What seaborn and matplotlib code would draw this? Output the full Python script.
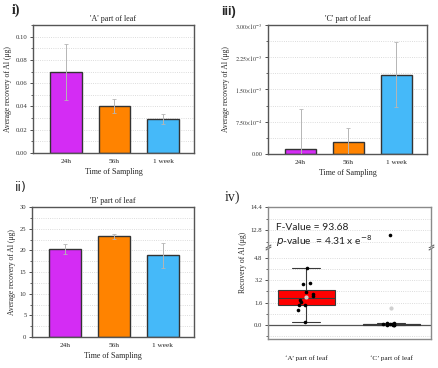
import numpy as np
import pandas as pd
import matplotlib.pyplot as plt
import seaborn as sns
from matplotlib.ticker import MultipleLocator, FixedLocator, FixedFormatter

# bar panels: mean recovery and error per sampling time
times = ['24h', '56h', '1 week']
bar_colors = ['#d42cf4', '#ff8300', '#45b9f9']

a_mean = [0.0695, 0.0405, 0.0293]
a_err = [0.024, 0.0062, 0.0045]

b_mean = [20.3, 23.2, 18.9]
b_err = [1.1, 0.5, 2.9]

c_mean = [0.116e-3, 0.28e-3, 1.845e-3]
c_err = [0.93e-3, 0.32e-3, 0.75e-3]

c_ticks = [0, 0.75e-3, 1.5e-3, 2.25e-3, 3e-3]
c_ticklabels = ['0.00', r'$7.50{\times}10^{-4}$', r'$1.50{\times}10^{-3}$',
                r'$2.25{\times}10^{-3}$', r'$3.00{\times}10^{-3}$']

# box panel: individual values
leaf_a_vals = [4.08, 2.98, 2.94, 2.39, 2.20, 2.05, 1.81, 1.67, 1.43, 1.43, 1.10, 0.21]
leaf_c_vals = [0.0, 0.02, 0.03, 0.04, 0.05, 0.06, 0.08, 0.10, 0.12, 0.15, 12.5]
parts = ['\u2018A\u2019 part of leaf', '\u2018C\u2019 part of leaf']

sns.set_style("white")
plt.rcParams['font.family'] = ['Liberation Serif', 'DejaVu Serif']
plt.rcParams['mathtext.fontset'] = 'stix'

fig = plt.figure(figsize=(4.38, 3.68), dpi=100)
W, H = 438, 368


def box(l, t, r, b):
    return [l / W, 1 - b / H, (r - l) / W, (b - t) / H]


def style_ax(ax, spine_col='#555555'):
    for s in ax.spines.values():
        s.set_color(spine_col)
        s.set_linewidth(1.0)
    ax.tick_params(axis='y', which='major', direction='out', length=2.5, width=0.6,
                   labelsize=4.8, pad=1.5, left=True, colors='#333333')
    ax.tick_params(axis='y', which='minor', direction='out', length=1.5, width=0.5, left=True)
    ax.tick_params(axis='x', length=0, labelsize=5.2, pad=4, colors='#222222')
    ax.grid(axis='y', which='both', linestyle=':', color='#d0d0d0', linewidth=0.6)
    ax.set_axisbelow(True)


def bar_panel(rect, means, errs, title, ylim, major):
    ax = fig.add_axes(rect)
    df = pd.DataFrame({'time': times, 'val': means})
    sns.barplot(data=df, x='time', y='val', hue='time', palette=bar_colors, saturation=1,
                width=0.65, edgecolor='#333333', linewidth=1.0, legend=False, ax=ax)
    ax.errorbar(x=np.arange(len(times)), y=means, yerr=errs, fmt='none',
                ecolor='#b5b5b5', elinewidth=0.7, capsize=1.5, capthick=0.6, zorder=5)
    ax.set_xlim(-0.68, 2.64)
    ax.set_ylim(*ylim)
    ax.yaxis.set_major_locator(MultipleLocator(major))
    ax.yaxis.set_minor_locator(MultipleLocator(major / 2))
    style_ax(ax)
    ax.set_title(title, fontsize=5.8, pad=3)
    ax.set_xlabel('Time of Sampling', fontsize=5.8, labelpad=3)
    ax.set_ylabel('Average recovery of Al (\u03bcg)', fontsize=5.5, labelpad=3)
    return ax


bar_panel(box(33, 25, 194, 153), a_mean, a_err, "'A' part of leaf", (0, 0.11), 0.02)
bar_panel(box(32, 207, 194, 337), b_mean, b_err, "'B' part of leaf", (0, 30), 5)
ax3 = bar_panel(box(268, 25, 427, 154), c_mean, c_err, "'C' part of leaf", (0, 3e-3), 0.75e-3)
ax3.yaxis.set_major_locator(FixedLocator(c_ticks))
ax3.yaxis.set_major_formatter(FixedFormatter(c_ticklabels))
ax3.tick_params(axis='y', labelsize=4.4)

# panel iv: broken-axis box plot
box_df = pd.DataFrame({'part': [parts[0]] * len(leaf_a_vals) + [parts[1]] * len(leaf_c_vals),
                       'val': leaf_a_vals + leaf_c_vals})
up = fig.add_axes(box(268, 207, 431, 246))
lo = fig.add_axes(box(268, 248, 431, 339))
for ax in (up, lo):
    sns.boxplot(data=box_df, x='part', y='val', hue='part', palette=['#ff0000', '#1a2a80'],
                saturation=1, width=0.67, showfliers=False, showmeans=True,
                linecolor='#3a3a3a', linewidth=0.8, legend=False,
                meanprops=dict(marker='o', markerfacecolor='#d0d0d0', markeredgecolor='#d0d0d0',
                               markersize=2),
                ax=ax)
    np.random.seed(3)
    sns.stripplot(data=box_df, x='part', y='val', color='black', size=2.6, jitter=0.1,
                  ax=ax, zorder=5)
    style_ax(ax, '#8a8a8a')
    ax.set_xlim(-0.45, 1.47)
    ax.set_ylabel('')
    ax.set_xlabel('')

up.set_ylim(11.73, 14.4)
up.yaxis.set_major_locator(FixedLocator([12.8, 14.4]))
up.yaxis.set_major_formatter(FixedFormatter(['12.8', '14.4']))
up.yaxis.set_minor_locator(FixedLocator([12.0, 13.6]))
up.spines['bottom'].set_visible(False)
up.tick_params(axis='x', labelbottom=False)

lo.set_ylim(-0.99, 5.5)
lo.yaxis.set_major_locator(MultipleLocator(1.6))
lo.yaxis.set_minor_locator(MultipleLocator(0.8))
lo.spines['top'].set_visible(False)
lo.axhline(0, color='#555555', linewidth=0.9, zorder=1)
lo.tick_params(axis='x', pad=12, labelsize=5.2)

# break marks on both side spines
for xpos in (0, 1):
    for ax, ypos in ((up, 0), (lo, 1)):
        ax.plot([xpos], [ypos], transform=ax.transAxes, marker=[(-1, -0.6), (1, 0.6)],
                markersize=4, color='#555555', mew=0.7, clip_on=False)

fig.text(243 / W, 1 - 262 / H, 'Recovery of Al (\u03bcg)', rotation=90, fontsize=5.5,
         ha='center', va='center')
fig.text(276 / W, 1 - 227 / H, 'F-Value = 93.68', fontsize=7.4, family=['Lato', 'DejaVu Sans'],
         va='center', color='#222222')
fig.text(276 / W, 1 - 241 / H, r'$p$-value  = 4.31 x e$^{-8}$', fontsize=7.4,
         family=['Lato', 'DejaVu Sans'], math_fontfamily='dejavusans', va='center',
         color='#222222')

# panel labels
fig.text(12 / W, 1 - 10 / H, 'i)', fontsize=10, fontweight='bold', va='center')
fig.text(15 / W, 1 - 187 / H, 'ii)', fontsize=9, family=['DejaVu Sans'], va='center')
fig.text(221 / W, 1 - 12 / H, 'iii)', fontsize=9, fontweight='bold',
         family=['Liberation Sans', 'DejaVu Sans'], va='center')
fig.text(225 / W, 1 - 197 / H, 'iv)', fontsize=10, va='center')

fig.savefig('out.png', dpi=100)
